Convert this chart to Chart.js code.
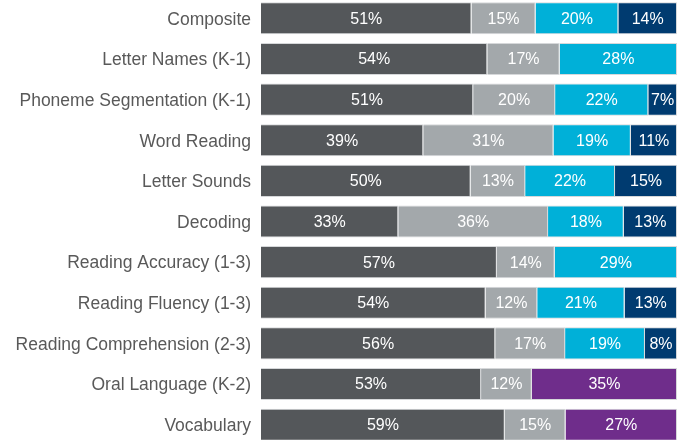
<!DOCTYPE html>
<html>
<head>
<meta charset="utf-8">
<script src="https://cdn.jsdelivr.net/npm/chart.js@4.4.1/dist/chart.umd.min.js"></script>
<style>
html, body { margin: 0; padding: 0; background: #fff; overflow: hidden; }
#wrap { position: absolute; left: 0; top: -2px; width: 686px; height: 447px; }
</style>
</head>
<body>
<div id="wrap"><canvas id="scores"></canvas></div>
<script>
// categories and stacked shares (percent of students)
var categories = [
	'Composite',
	'Letter Names (K-1)',
	'Phoneme Segmentation (K-1)',
	'Word Reading',
	'Letter Sounds',
	'Decoding',
	'Reading Accuracy (1-3)',
	'Reading Fluency (1-3)',
	'Reading Comprehension (2-3)',
	'Oral Language (K-2)',
	'Vocabulary'
];
var darkGray  = [50.6, 54.4, 51.0, 39.0, 50.4, 33.0, 56.7, 54.0, 56.3, 52.9, 58.6];
var lightGray = [15.4, 17.4, 19.7, 31.3, 13.1, 36.0, 13.9, 12.4, 16.8, 12.2, 14.6];
var cyan      = [19.9, 28.2, 22.4, 18.6, 21.6, 18.2, 29.4, 21.0, 19.2, null, null];
var navy      = [14.1, null, 6.9, 11.1, 14.9, 12.8, null, 12.6, 7.7, null, null];
var purple    = [null, null, null, null, null, null, null, null, null, 34.9, 26.8];

var fontFam = '"Liberation Sans", Arial, sans-serif';

// white % labels in the middle of each segment
var barLabels = {
	id: 'barLabels',
	afterDatasetsDraw: function(chart) {
		var ctx = chart.ctx;
		ctx.save();
		ctx.fillStyle = '#ffffff';
		ctx.font = '16px ' + fontFam;
		ctx.textAlign = 'center';
		ctx.textBaseline = 'middle';
		chart.data.datasets.forEach(function(ds, i) {
			chart.getDatasetMeta(i).data.forEach(function(bar, j) {
				var v = ds.data[j];
				if (v == null) return;
				var p = bar.getProps(['x', 'y', 'base'], true);
				ctx.fillText(Math.round(v) + '%', (p.x + p.base) / 2, p.y + 1);
			});
		});
		ctx.restore();
	}
};

function set(label, data, color) {
	return {
		label: label,
		data: data,
		backgroundColor: color,
		borderColor: '#d6d8da',
		borderWidth: 1,
		barPercentage: 0.79,
		categoryPercentage: 1
	};
}

var config = {
type: 'bar',
data: {
	labels: categories,
	datasets: [
		set('dark', darkGray, '#54575a'),
		set('light', lightGray, '#a3a8ab'),
		set('cyan', cyan, '#00b0d8'),
		set('navy', navy, '#003b70'),
		set('purple', purple, '#6f2d8b')
	]
},
options: {
	indexAxis: 'y',
	responsive: true,
	maintainAspectRatio: false,
	animation: false,
	layout: { padding: { left: 0, right: 9, top: 0, bottom: 0 } },
	plugins: {
		legend: { display: false },
		tooltip: { enabled: false }
	},
	scales: {
		x: {
			stacked: true,
			display: false,
			min: 0,
			max: 100
		},
		y: {
			stacked: true,
			grid: { display: false, drawTicks: false },
			border: { display: false },
			ticks: {
				padding: 10,
				labelOffset: 1.5,
				color: '#595959',
				font: { family: fontFam, size: 17.5 }
			},
			afterFit: function(scale) {
				scale.width = 261;
				scale.paddingTop = 0;
				scale.paddingBottom = 0;
			}
		}
	}
},
plugins: [barLabels]
};

window.onload = function() {
	var ctx = document.getElementById('scores').getContext('2d');
	window.scoreChart = new Chart(ctx, config);
};
</script>
</body>
</html>
